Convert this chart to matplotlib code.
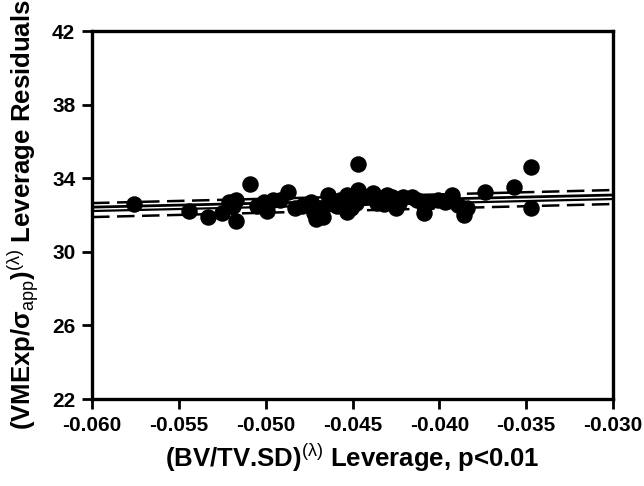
import numpy as np
import matplotlib
matplotlib.use("Agg")
import matplotlib.pyplot as plt

plt.rcParams['font.family'] = ['Liberation Sans', 'DejaVu Sans']
plt.rcParams['mathtext.fontset'] = 'custom'
plt.rcParams['mathtext.rm'] = 'Liberation Sans'
plt.rcParams['mathtext.it'] = 'Liberation Sans:italic'
plt.rcParams['mathtext.bf'] = 'Liberation Sans:bold'

# leverage values (x) and residuals (y)
lev_x = [-0.0576, -0.0544, -0.0533, -0.0525, -0.0521, -0.0517, -0.0517, -0.0509,
         -0.0505, -0.0501, -0.0499, -0.0496, -0.0492, -0.0487, -0.0483, -0.0474,
         -0.0472, -0.0471, -0.0467, -0.0464, -0.0461, -0.0457, -0.0453, -0.0453,
         -0.0451, -0.0447, -0.0447, -0.0448, -0.0442, -0.0438, -0.0436, -0.0434,
         -0.0430, -0.0427, -0.0425, -0.0423, -0.0421, -0.0416, -0.0409, -0.0409,
         -0.0406, -0.0401, -0.0393, -0.0389, -0.0386, -0.0384, -0.0374, -0.0357,
         -0.0347, -0.0347, -0.0519, -0.0479, -0.0469, -0.0459, -0.0445, -0.0432,
         -0.0413, -0.0397]
res_y = [32.6, 32.2, 31.9, 32.1, 32.7, 32.8, 31.7, 33.7,
         32.5, 32.7, 32.2, 32.8, 32.8, 33.25, 32.4, 32.7,
         32.1, 31.8, 31.9, 33.1, 32.65, 32.8, 33.1, 32.15,
         32.4, 34.8, 33.35, 32.65, 33.0, 33.2, 32.65, 32.9,
         33.1, 33.0, 32.4, 32.65, 32.98, 33.0, 32.6, 32.1,
         32.7, 32.8, 33.1, 32.55, 32.0, 32.4, 33.25, 33.5,
         34.6, 32.4, 32.5, 32.5, 32.4, 32.5, 32.9, 32.6,
         32.8, 32.7]

# regression / band lines, values at the two x limits
line_x = [-0.060, -0.030]
upper_dash = [32.65, 33.36]
solid_a = [32.43, 33.09]
solid_b = [32.22, 32.87]
lower_dash = [31.89, 32.60]

fig = plt.figure(figsize=(6.44, 4.86), dpi=100)
ax = fig.add_axes([0.1429, 0.179, 0.8090, 0.757])

ax.plot(line_x, solid_a, color='black', lw=2.0)
ax.plot(line_x, solid_b, color='black', lw=1.6)
ax.plot(line_x, upper_dash, color='black', lw=1.8, dashes=(7, 3))
ax.plot(line_x, lower_dash, color='black', lw=1.8, dashes=(7, 3))
ax.scatter(lev_x, res_y, s=118, color='black', zorder=3, clip_on=False)

ax.set_xlim(-0.060, -0.030)
ax.set_ylim(22, 42)
ax.set_xticks(np.arange(-0.060, -0.0299, 0.005))
ax.set_xticklabels(['-0.060', '-0.055', '-0.050', '-0.045', '-0.040', '-0.035', '-0.030'])
ax.set_yticks([22, 26, 30, 34, 38, 42])

for s in ax.spines.values():
    s.set_linewidth(2.4)
ax.tick_params(direction='out', length=7, width=2, labelsize=15, pad=5)
for lab in ax.get_xticklabels() + ax.get_yticklabels():
    lab.set_fontweight('bold')

ax.set_xlabel(r'(BV/TV.SD)$^{(\mathrm{\lambda})}$ Leverage, p<0.01',
              fontsize=18.5, fontweight='bold', labelpad=5)
ax.set_ylabel(r'(VMExp/σ$_{\mathrm{app}}$)$^{(\mathrm{\lambda})}$ Leverage Residuals',
              fontsize=18.5, fontweight='bold', labelpad=8)

fig.savefig('out.png', dpi=100)
